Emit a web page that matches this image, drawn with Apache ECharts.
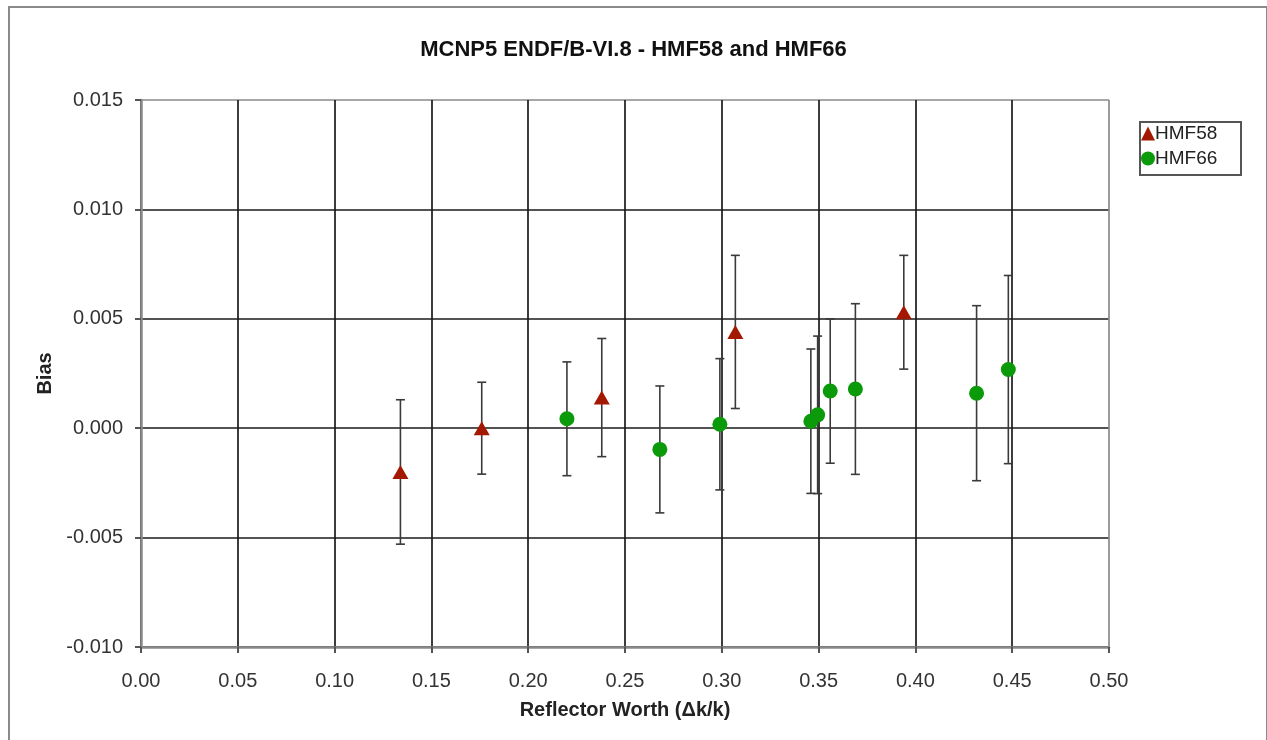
<!DOCTYPE html>
<html>
<head>
<meta charset="utf-8">
<title>MCNP5 ENDF/B-VI.8 - HMF58 and HMF66</title>
<script src="https://cdn.jsdelivr.net/npm/echarts@6/dist/echarts.min.js"></script>
<style>
    html, body { margin: 0; padding: 0; background: #fff; overflow: hidden; }
    #main { width: 1267px; height: 740px; }
    #frame { position: absolute; left: 8px; top: 6px; width: 1256px; height: 800px;
             border: 2px solid #8a8a8a; pointer-events: none; }
    #legendBox { position: absolute; left: 1139px; top: 121px; width: 99px; height: 51px;
                 border: 2px solid #555; pointer-events: none; }
</style>
</head>
<body>
<div id="main"></div>
<div id="frame"></div>
<div id="legendBox"></div>
<script>
    // HMF58 points: reflector worth, bias, 1-sigma uncertainty
    var hmf58X = [0.134, 0.176, 0.238, 0.307, 0.394];
    var hmf58Y = [-0.0020, 0.0000, 0.0014, 0.0044, 0.0053];
    var hmf58Err = [0.0033, 0.0021, 0.0027, 0.0035, 0.0026];

    // HMF66 points
    var hmf66X = [0.220, 0.268, 0.299, 0.346, 0.3495, 0.356, 0.369, 0.4316, 0.448];
    var hmf66Y = [0.00043, -0.00097, 0.00018, 0.00032, 0.00061, 0.0017, 0.00179, 0.0016, 0.00268];
    var hmf66Err = [0.0026, 0.0029, 0.0030, 0.0033, 0.0036, 0.0033, 0.0039, 0.0040, 0.0043];

    var xTicks = [0, 0.05, 0.10, 0.15, 0.20, 0.25, 0.30, 0.35, 0.40, 0.45, 0.50];
    var yTicks = [-0.010, -0.005, 0.000, 0.005, 0.010, 0.015];

    function pts(xs, ys) {
        return xs.map(function (x, i) { return [x, ys[i]]; });
    }
    function errs(xs, ys, es) {
        return xs.map(function (x, i) { return [x, ys[i], es[i]]; });
    }

    function errorBar(params, api) {
        var x = api.value(0), y = api.value(1), e = api.value(2);
        var hi = api.coord([x, y + e]);
        var lo = api.coord([x, y - e]);
        var w = 4.5;
        var st = {stroke: '#3a3a3a', lineWidth: 1.6};
        return {
            type: 'group',
            children: [
                {type: 'line', shape: {x1: hi[0], y1: hi[1], x2: lo[0], y2: lo[1]}, style: st},
                {type: 'line', shape: {x1: hi[0] - w, y1: hi[1], x2: hi[0] + w, y2: hi[1]}, style: st},
                {type: 'line', shape: {x1: lo[0] - w, y1: lo[1], x2: lo[0] + w, y2: lo[1]}, style: st}
            ]
        };
    }

    var font = 'Liberation Sans, Arial, Helvetica, sans-serif';
    var xGridColors = xTicks.map(function (t, i) { return i === xTicks.length - 1 ? '#8a8a8a' : '#1a1a1a'; });
    var yGridColors = yTicks.map(function (t, i) { return i === yTicks.length - 1 ? '#8a8a8a' : '#1a1a1a'; });

    var chart = echarts.init(document.getElementById('main'));
    chart.setOption({
        backgroundColor: '#fff',
        animation: false,
        title: {
            text: 'MCNP5 ENDF/B-VI.8 - HMF58 and HMF66',
            left: 'center',
            top: 34,
            textStyle: {fontFamily: font, fontSize: 22, fontWeight: 'bold', color: '#111'}
        },
        legend: {
            orient: 'vertical',
            left: 1140,
            top: 124,
            itemGap: 6,
            itemWidth: 14,
            itemHeight: 14,
            padding: [0, 0, 0, 1],
            textStyle: {fontFamily: font, fontSize: 19, color: '#222', padding: [0, 0, 0, -5]},
            data: [{name: 'HMF58', icon: 'triangle'}, {name: 'HMF66', icon: 'circle'}]
        },
        grid: {left: 141, right: 158, top: 100, bottom: 93},
        xAxis: {
            type: 'value',
            min: 0, max: 0.5, interval: 0.05,
            name: 'Reflector Worth (\u0394k/k)',
            nameLocation: 'middle',
            nameGap: 53,
            nameTextStyle: {fontFamily: font, fontSize: 20, fontWeight: 'bold', color: '#222'},
            axisLine: {onZero: false, lineStyle: {color: '#8a8a8a', width: 2.5}},
            axisTick: {show: true, length: 6, lineStyle: {color: '#555', width: 2}},
            axisLabel: {
                margin: 24, fontFamily: font, fontSize: 20, color: '#333',
                formatter: function (v) { return v.toFixed(2); }
            },
            splitLine: {show: true, lineStyle: {color: xGridColors, width: 1.7}}
        },
        yAxis: {
            type: 'value',
            min: -0.010, max: 0.015, interval: 0.005,
            name: 'Bias',
            nameLocation: 'middle',
            nameRotate: 90,
            nameGap: 86,
            nameTextStyle: {fontFamily: font, fontSize: 20, fontWeight: 'bold', color: '#222'},
            axisLine: {show: true, onZero: false, lineStyle: {color: '#8a8a8a', width: 2.5}},
            axisTick: {show: true, length: 6, lineStyle: {color: '#555', width: 2}},
            axisLabel: {
                margin: 18, fontFamily: font, fontSize: 20, color: '#333',
                formatter: function (v) { return v.toFixed(3); }
            },
            splitLine: {show: true, lineStyle: {color: yGridColors, width: 1.7}}
        },
        series: [
            {
                name: 'HMF58 err', type: 'custom', renderItem: errorBar,
                data: errs(hmf58X, hmf58Y, hmf58Err), z: 3, silent: true
            },
            {
                name: 'HMF66 err', type: 'custom', renderItem: errorBar,
                data: errs(hmf66X, hmf66Y, hmf66Err), z: 3, silent: true
            },
            {
                name: 'HMF58', type: 'scatter', symbol: 'triangle', symbolSize: [16, 14],
                itemStyle: {color: '#a31800', opacity: 1},
                data: pts(hmf58X, hmf58Y), z: 5
            },
            {
                name: 'HMF66', type: 'scatter', symbol: 'circle', symbolSize: 15,
                itemStyle: {color: '#0a9a0a', opacity: 1},
                data: pts(hmf66X, hmf66Y), z: 5
            }
        ]
    });
</script>
</body>
</html>
